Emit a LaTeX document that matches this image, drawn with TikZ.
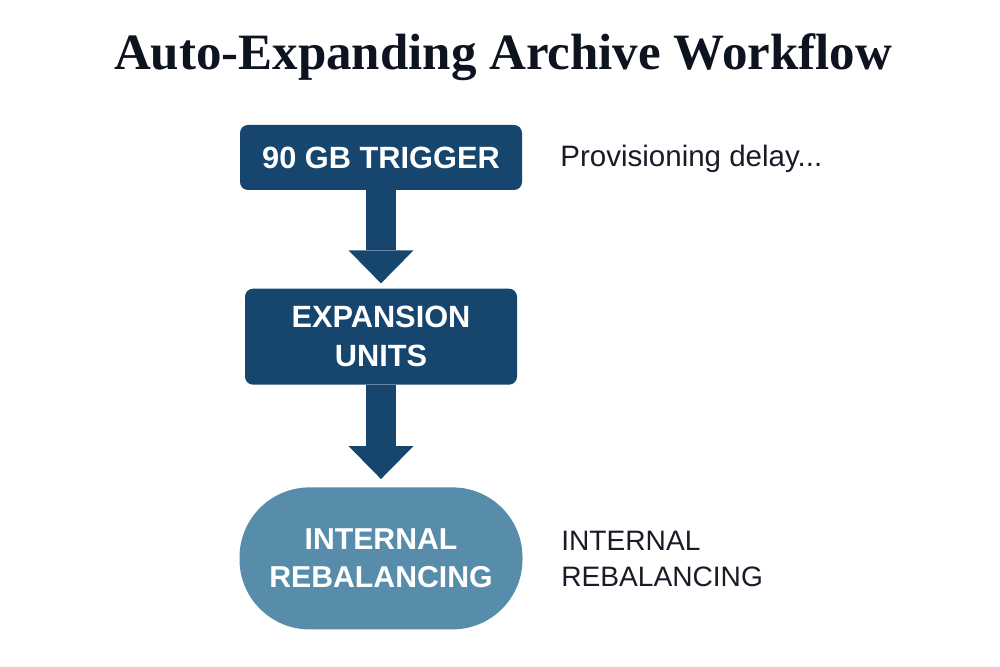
\documentclass[tikz,border=0pt]{standalone}
\usepackage{fontspec}
\setmainfont{Liberation Serif}
\setsansfont{Liberation Sans}
\usepackage{xcolor}
\usepackage{tikz}
\usetikzlibrary{positioning, arrows.meta}
\definecolor{titleColor}{RGB}{14, 19, 32}
\definecolor{boxDark}{RGB}{22, 69, 110}
\definecolor{boxLight}{RGB}{87, 141, 171}
\definecolor{noteColor}{RGB}{24, 28, 38}
\tikzset{
    flow_box/.style={
        rectangle,
        rounded corners=0.16cm,
        fill=boxDark,
        text=white,
        align=center,
        font=\sffamily\bfseries\fontsize{17.5}{22}\selectfont
    },
    flow_end/.style={
        rectangle,
        rounded corners=1.4cm,
        fill=boxLight,
        text=white,
        align=center,
        minimum width=5.66cm,
        minimum height=2.84cm,
        font=\sffamily\bfseries\fontsize{17.2}{21.5}\selectfont
    },
    flow_arrow/.style={
        draw=boxDark,
        line width=0.6cm,
        -{Triangle[length=0.66cm, width=1.3cm, line width=0pt]}
    },
    side_note/.style={
        inner sep=0pt,
        text=noteColor,
        align=left,
        font=\sffamily\fontsize{16}{21}\selectfont
    }
}
\begin{document}
\begin{tikzpicture}
    \useasboundingbox (0,0) rectangle (20,13.34);

    \node[anchor=base, inner sep=0pt, text=titleColor,
          font=\bfseries\fontsize{29}{34}\selectfont] (title) at (10.06,11.94)
        {Auto-Expanding Archive Workflow};

    \node[flow_box, minimum width=5.64cm, minimum height=1.3cm] (trigger) at (7.62,10.19) {90 GB TRIGGER};
    \node[flow_box, minimum width=5.44cm, minimum height=1.92cm, below=1.96cm of trigger] (units) {EXPANSION\\UNITS};
    \node[flow_end, below=2.04cm of units] (rebal) {INTERNAL\\REBALANCING};

    \draw[flow_arrow, shorten >=0.1cm] (trigger) -- (units);
    \draw[flow_arrow, shorten >=0.16cm] (units) -- (rebal);

    % notes on the right
    \node[side_note, anchor=base west, font=\sffamily\fontsize{16.8}{21}\selectfont] (delay) at (11.2,10.0) {Provisioning delay...};
    \node[side_note, anchor=west] (rebal_note) at (11.22,2.16) {INTERNAL\\REBALANCING};
\end{tikzpicture}
\end{document}
